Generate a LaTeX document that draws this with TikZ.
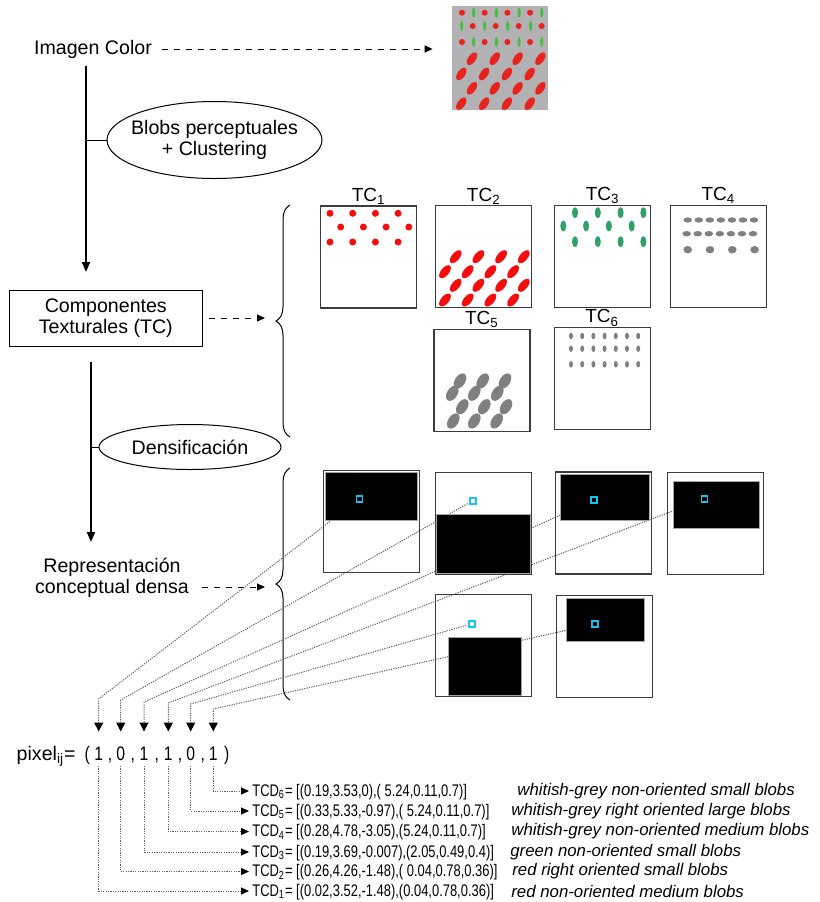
\documentclass[tikz,border=0pt]{standalone}
\usepackage{fontspec}
\setmainfont{Liberation Sans}
\newfontfamily\narrowfont[FakeStretch=0.8]{Liberation Sans}
\newfontfamily\tcdfamily[FakeStretch=0.77]{Liberation Sans}
\usetikzlibrary{arrows.meta,shapes.geometric,decorations.pathreplacing}

\definecolor{imggrey}{RGB}{178,177,180}
\definecolor{blobred}{RGB}{232,34,28}
\definecolor{tcred}{RGB}{245,12,12}
\definecolor{blobgreen}{RGB}{70,190,60}
\definecolor{tcgreen}{RGB}{46,160,104}
\definecolor{tcgrey}{RGB}{128,128,128}
\definecolor{pixcyan}{RGB}{20,195,240}
\definecolor{framegrey}{RGB}{60,60,60}

\tikzset{
  lbl/.style={font=\fontsize{9.8}{10.8}\selectfont, align=center},
  flow/.style={line width=1pt, -{Triangle[length=5pt,width=4pt]}},
  dasharrow/.style={dashed, line width=0.5pt, -{Triangle[length=4pt,width=3.5pt]}},
  stage/.style={draw, ellipse, line width=0.5pt, inner sep=0pt},
  tcpanel/.style={draw=framegrey, line width=0.6pt, minimum width=48pt, minimum height=51pt, inner sep=0pt},
  tclabel/.style={font=\fontsize{9.5}{11}\selectfont},
  dark/.style={fill=black, draw=gray!70, line width=0.4pt},
  pixbox/.style={draw=pixcyan, line width=0.8pt, minimum size=3pt, inner sep=0pt},
  link/.style={gray!75!black, dash pattern=on 0.6pt off 0.6pt, line width=0.5pt},
  pixfont/.style={font=\narrowfont\fontsize{9.8}{11}\selectfont, inner sep=0pt},
  tcdfont/.style={font=\tcdfamily\fontsize{8.4}{10}\selectfont, text height=6.5pt, text depth=1.5pt, inner sep=1.5pt},
  descfont/.style={font=\fontsize{8.4}{10}\selectfont\itshape, inner sep=0pt},
  curly/.style={decorate, decoration={brace, amplitude=7pt}, line width=0.5pt},
}

\begin{document}
\begin{tikzpicture}[x=0.5pt, y=-0.5pt]
\useasboundingbox (0,0) rectangle (820,902);

% colour image
\node[lbl] (img) at (93,49) {Imagen Color};
\node[fill=imggrey, minimum width=48pt, minimum height=52pt, inner sep=0pt] (colimg) at (500,58) {};
\draw[dasharrow, shorten <=1.5pt, shorten >=9.5pt] (img.east) -- (colimg.west |- img.east);
\foreach \y in {12.7,42}
  \foreach \i in {0,...,3} {
    \fill[blobred] (462+22.7*\i,\y) circle (1.5pt);
    \fill[blobgreen] (473.7+22.7*\i,\y) ellipse [x radius=0.8pt, y radius=2.5pt];
  }
\foreach \i in {0,...,3} {
  \fill[blobgreen] (461.7+23*\i,26) ellipse [x radius=0.8pt, y radius=2.5pt];
  \fill[blobred] (472.7+23*\i,26) circle (1.5pt);
}
\foreach \y/\xs in {58.7/472, 74/461.3, 88.3/472, 103.7/461.3}
  \foreach \i in {0,...,3}
    \fill[blobred, rotate around={55:(\xs+22.8*\i,\y)}] (\xs+22.8*\i,\y) ellipse [x radius=3.6pt, y radius=1.9pt];

% left column
\coordinate (start1) at (86,66);
\coordinate (end1) at (86,272);
\draw[flow] (start1) -- (end1);
\node[stage, lbl, minimum width=107.5pt, minimum height=38.5pt, inner sep=-6pt] (blobs) at (214.5,140) {Blobs perceptuales\\+ Clustering};
\draw[line width=0.5pt] (start1 |- blobs.west) -- (blobs.west);

\node[draw, line width=0.5pt, lbl, minimum width=96.5pt, minimum height=28pt] (comp) at (105.8,318) {Componentes\\Texturales (TC)};
\draw[curly] (290,437) -- (290,205);
\coordinate (tip1) at (276,321);
\draw[dasharrow, shorten <=3pt, shorten >=5.5pt] (comp.east) -- (comp.east -| tip1);

\coordinate (start2) at (91,362);
\coordinate (end2) at (91,542);
\draw[flow] (start2) -- (end2);
\node[stage, lbl, minimum width=91pt, minimum height=22.5pt] (dens) at (190,447) {Densificación};
\draw[line width=0.5pt] (start2 |- dens.west) -- (dens.west);

\node[lbl] (rep) at (112,578) {Representación\\conceptual densa};
\draw[curly] (290,700) -- (290,468);
\coordinate (tip2) at (276,587);
\draw[dasharrow, shorten <=3pt, shorten >=5.5pt] (rep.east |- tip2) -- (tip2);

% textural components
\node[tcpanel, label={[tclabel, label distance=-3pt]above:TC\textsubscript{1}}] (tc1) at (368.7,257) {};
\node[tcpanel, label={[tclabel, label distance=-3pt]above:TC\textsubscript{2}}] (tc2) at (483.8,256.8) {};
\node[tcpanel, label={[tclabel, label distance=-3pt]above:TC\textsubscript{3}}] (tc3) at (602.7,256.2) {};
\node[tcpanel, label={[tclabel, label distance=-3pt]above:TC\textsubscript{4}}] (tc4) at (718.5,256.2) {};
\node[tcpanel, label={[tclabel, label distance=-3pt]above:TC\textsubscript{5}}] (tc5) at (482,380.7) {};
\node[tcpanel, label={[tclabel, label distance=-3pt]above:TC\textsubscript{6}}] (tc6) at (602.2,378.8) {};

\foreach \y/\xs in {213.3/330, 227/340.7, 242/330}
  \foreach \i in {0,...,3}
    \fill[tcred] (\xs+22.7*\i,\y) circle (1.75pt);
\foreach \y/\xs in {256.7/455.7, 271.7/445, 285.3/455.7, 300/445}
  \foreach \i in {0,...,3}
    \fill[tcred, rotate around={50:(\xs+22.7*\i,\y)}] (\xs+22.7*\i,\y) ellipse [x radius=3.9pt, y radius=2pt];
\foreach \y/\xs in {212.7/575, 226/563.3, 241.7/575}
  \foreach \i in {0,...,3}
    \fill[tcgreen] (\xs+22.8*\i,\y) ellipse [x radius=1.5pt, y radius=2.75pt];
\foreach \y/\xs in {220/687.7, 233.7/686.7}
  \foreach \i in {0,...,6}
    \fill[tcgrey] (\xs+11.05*\i,\y) ellipse [x radius=2.15pt, y radius=1.35pt];
\foreach \i in {0,...,3}
  \fill[tcgrey] (687.7+22.3*\i,249.7) ellipse [x radius=2.15pt, y radius=1.85pt];
\foreach \xs/\y in {460/381, 482.7/381, 505/381, 452.3/393.3, 474.3/393.3, 497.3/393.3,
                    462.3/406.7, 484.3/406.7, 506/406.7, 453.3/421, 474.3/421, 496.7/421}
  \fill[tcgrey, rotate around={57:(\xs,\y)}] (\xs,\y) ellipse [x radius=4.2pt, y radius=2.6pt];
\foreach \y in {336,348.7,364.3}
  \foreach \i in {0,...,6}
    \fill[tcgrey] (571+11.2*\i,\y) ellipse [x radius=1pt, y radius=1.65pt];

% pixel vector
\node[font=\fontsize{9.8}{11}\selectfont, inner sep=0pt, anchor=base east] (pixname) at (76,760) {pixel\textsubscript{ij}=};
\node[pixfont, anchor=base] (lpar) at (87.3,760) {(};
\foreach \k/\dx/\dv in {1/98.7/1, 2/120.7/0, 3/144/1, 4/168.3/1, 5/190.7/0, 6/213.3/1}
  \node[pixfont, anchor=base] (d\k) at (\dx,760) {\dv};
\foreach \cx [count=\k] in {110,132.7,156.7,180,202.7}
  \node[pixfont, anchor=base] (comma\k) at (\cx,760) {,};
\node[pixfont, anchor=base] (rpar) at (226.7,760) {)};

% dense maps: links first, the black areas cover them
\coordinate (p1) at (359.3,499);
\coordinate (p2) at (472.7,500.7);
\coordinate (p3) at (594,500);
\coordinate (p4) at (704.3,499);
\coordinate (p5) at (472,623.7);
\coordinate (p6) at (594.7,624);
\foreach \k/\by in {1/699, 2/700, 3/702, 4/703, 5/704, 6/709}
  \coordinate (bend\k) at (d\k |- 0,\by);
\coordinate (tipline) at (0,731.5);
\foreach \k in {1,...,6}
  \draw[link, shorten <=3pt, -{Triangle[length=4.5pt,width=4.5pt,color=black]}] (p\k) -- (bend\k) -- (bend\k |- tipline);

\node[tcpanel] (dc1) at (371.2,521.8) {};
\node[tcpanel] (dc2) at (483.3,523.2) {};
\node[tcpanel] (dc3) at (603.8,523) {};
\node[tcpanel] (dc4) at (715.3,523.3) {};
\node[tcpanel] (dc5) at (483.3,645.8) {};
\node[tcpanel] (dc6) at (604.5,646.7) {};
\filldraw[dark] (325,472.3) rectangle (417.3,520.3);
\filldraw[dark] (436.7,514) rectangle (530,573.3);
\filldraw[dark] (560.3,474.3) rectangle (649,520);
\filldraw[dark] (673.7,481.3) rectangle (759.3,528);
\filldraw[dark] (448.7,637.3) rectangle (521.7,695);
\filldraw[dark] (566.7,598.3) rectangle (644.3,641.7);
\foreach \k in {1,...,6}
  \node[pixbox] (sq\k) at (p\k) {};

% descriptors
\node[tcdfont, anchor=west] (tcd6) at (249,791) {TCD\textsubscript{6}= [(0.19,3.53,0),( 5.24,0.11,0.7)]};
\node[tcdfont, anchor=west] (tcd5) at (249,811) {TCD\textsubscript{5}= [(0.33,5.33,-0.97),( 5.24,0.11,0.7)]};
\node[tcdfont, anchor=west] (tcd4) at (249,831.5) {TCD\textsubscript{4}= [(0.28,4.78,-3.05),(5.24,0.11,0.7)]};
\node[tcdfont, anchor=west] (tcd3) at (249,852) {TCD\textsubscript{3}= [(0.19,3.69,-0.007),(2.05,0.49,0.4)]};
\node[tcdfont, anchor=west] (tcd2) at (249,871.5) {TCD\textsubscript{2}= [(0.26,4.26,-1.48),( 0.04,0.78,0.36)]};
\node[tcdfont, anchor=west] (tcd1) at (249,891) {TCD\textsubscript{1}= [(0.02,3.52,-1.48),(0.04,0.78,0.36)]};
\node[descfont, anchor=west] (desc6) at (517,791) {whitish-grey non-oriented small blobs};
\node[descfont, anchor=west] (desc5) at (511,811) {whitish-grey right oriented large blobs};
\node[descfont, anchor=west] (desc4) at (511,831.5) {whitish-grey non-oriented medium blobs};
\node[descfont, anchor=west] (desc3) at (510,852) {green non-oriented small blobs};
\node[descfont, anchor=west] (desc2) at (512,871.5) {red right oriented small blobs};
\node[descfont, anchor=west] (desc1) at (511,891) {red non-oriented medium blobs};

\coordinate (underline) at (0,766);
\foreach \k in {1,...,6}
  \draw[link, -{Triangle[length=4pt,width=3.5pt,color=black]}] (d\k |- underline) |- (tcd\k.west);
\end{tikzpicture}
\end{document}
